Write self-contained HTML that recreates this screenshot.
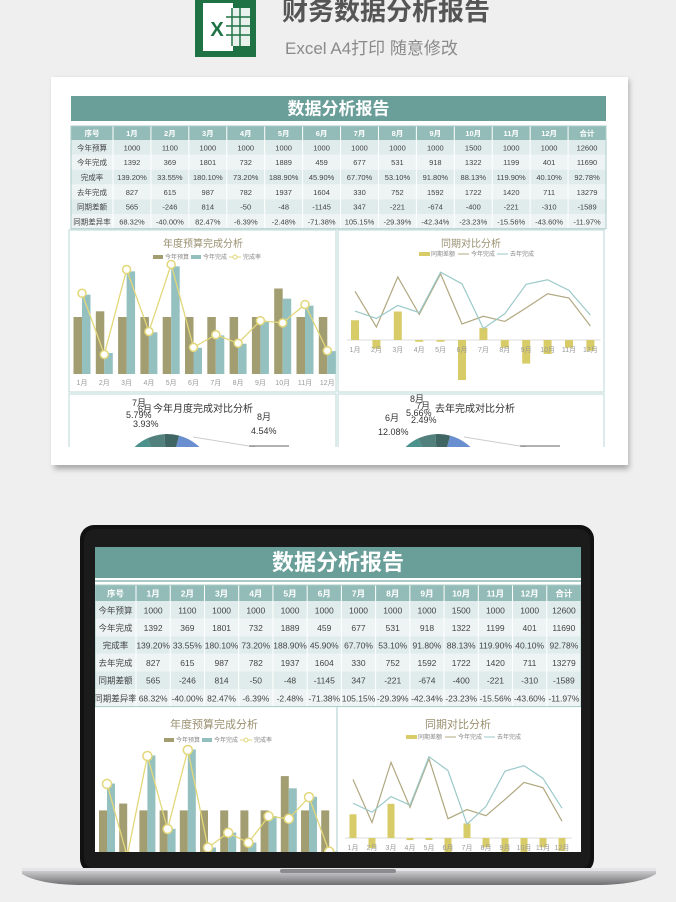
<!DOCTYPE html>
<html><head><meta charset="utf-8">
<style>
html,body{margin:0;padding:0;background:#efefef;}
svg{display:block;font-family:"Liberation Sans","Noto Sans CJK SC",sans-serif;}
</style></head>
<body>
<svg id="s" width="676" height="902" viewBox="0 0 676 902" xmlns="http://www.w3.org/2000/svg">
<defs>
<filter id="sh" x="-5%" y="-5%" width="110%" height="115%"><feGaussianBlur stdDeviation="3"/></filter>
<clipPath id="c1"><rect x="51" y="77" width="577" height="370"/></clipPath>
<clipPath id="c2"><rect x="95" y="547" width="486" height="305"/></clipPath>
<linearGradient id="base" x1="0" y1="0" x2="0" y2="1"><stop offset="0" stop-color="#d8d8da"/><stop offset="0.5" stop-color="#a5a5a8"/><stop offset="1" stop-color="#6d6d70"/></linearGradient>
</defs>
<rect x="195" y="0" width="61" height="57" fill="#1f7244"/>
<rect x="203" y="3" width="30" height="48" fill="#fff"/>
<rect x="226" y="8" width="24" height="38" fill="#fff" opacity="0.9"/>
<g stroke="#1f7244" stroke-width="1.5"><line x1="232" y1="8" x2="232" y2="46"/><line x1="240" y1="8" x2="240" y2="46"/><line x1="226" y1="17" x2="250" y2="17"/><line x1="226" y1="26" x2="250" y2="26"/><line x1="226" y1="35" x2="250" y2="35"/></g>
<text x="217" y="36" font-size="20" font-weight="bold" fill="#1f7244" text-anchor="middle">X</text>
<text x="282" y="20" font-size="26" font-weight="bold" fill="#555">财务数据分析报告</text>
<text x="285" y="54" font-size="17" fill="#8a8a8a">Excel A4打印 随意修改</text>
<rect x="54" y="80" width="575" height="389" fill="#777" filter="url(#sh)" opacity="0.6"/>
<rect x="51" y="77" width="577" height="388" fill="#fff"/>
<g id="top" clip-path="url(#c1)"></g>
<rect x="80" y="525" width="514" height="348" rx="14" fill="#111"/>
<rect x="84" y="529" width="506" height="340" rx="11" fill="#1b1b1b"/>
<rect x="95" y="547" width="486" height="305" fill="#fff"/>
<g id="scr" clip-path="url(#c2)"></g>
<path d="M22 869 L656 869 L656 874 Q640 884 600 885 L78 885 Q38 884 22 874 Z" fill="url(#base)"/>
<rect x="22" y="868" width="634" height="3" fill="#e4e4e6"/>
<rect x="280" y="869" width="116" height="4" rx="2" fill="#8c8c90"/>
</svg>
<script>
const NS="http://www.w3.org/2000/svg";
function el(p,t,a,txt){const e=document.createElementNS(NS,t);for(const k in a)e.setAttribute(k,a[k]);if(txt!==undefined)e.textContent=txt;p.appendChild(e);return e;}
const budget=[1000,1100,1000,1000,1000,1000,1000,1000,1000,1500,1000,1000];
const done=[1392,369,1801,732,1889,459,677,531,918,1322,1199,401];
const last=[827,615,987,782,1937,1604,330,752,1592,1722,1420,711];
const rateT=["139.20%","33.55%","180.10%","73.20%","188.90%","45.90%","67.70%","53.10%","91.80%","88.13%","119.90%","40.10%","92.78%"];
const diffT=["565","-246","814","-50","-48","-1145","347","-221","-674","-400","-221","-310","-1589"];
const drT=["68.32%","-40.00%","82.47%","-6.39%","-2.48%","-71.38%","105.15%","-29.39%","-42.34%","-23.23%","-15.56%","-43.60%","-11.97%"];
const rows=[["今年预算",...budget,12600],["今年完成",...done,11690],["完成率",...rateT],["去年完成",...last,13279],["同期差额",...diffT],["同期差异率",...drT]];
const heads=["序号","1月","2月","3月","4月","5月","6月","7月","8月","9月","10月","11月","12月","合计"];
function table(g,c){
 el(g,"rect",{x:c.x,y:c.ty,width:c.w,height:c.th,fill:"#6a9e99"});
 el(g,"text",{x:c.x+c.w/2,y:c.ty+c.th*0.74,"font-size":c.tf,"font-weight":"bold",fill:"#fff","text-anchor":"middle"},"数据分析报告");
 const cw=(c.w-c.fw)/13;
 const cx=i=>i==0?c.x+c.fw/2:c.x+c.fw+cw*(i-0.5);
 el(g,"rect",{x:c.x,y:c.hy,width:c.w,height:c.hh,fill:"#93bcb8"});
 heads.forEach((h,i)=>el(g,"text",{x:cx(i),y:c.hy+c.hh*0.72,"font-size":c.fs,"font-weight":"bold",fill:"#fff","text-anchor":"middle"},h));
 rows.forEach((r,j)=>{const y=c.hy+c.hh+j*c.rh;
  el(g,"rect",{x:c.x,y:y,width:c.w,height:c.rh,fill:j%2==0?"#dfeceb":"#eef4f4"});
  r.forEach((v,i)=>el(g,"text",{x:cx(i),y:y+c.rh*0.7,"font-size":c.fs,fill:"#444","text-anchor":"middle"},String(v)));});
 for(let i=1;i<14;i++){const x=c.x+c.fw+cw*(i-1);el(g,"line",{x1:x,y1:c.hy,x2:x,y2:c.hy+c.hh+6*c.rh,stroke:"#fff","stroke-width":1});}
 el(g,"rect",{x:c.x,y:c.hy,width:c.w,height:c.hh+6*c.rh,fill:"none",stroke:"#a9cbc8","stroke-width":1});
}
function bar(g,c){
 el(g,"text",{x:c.tx,y:c.ty,"font-size":c.tfs,fill:"#9a9070","text-anchor":"middle"},"年度预算完成分析");
 const ly=c.ly, lx=c.tx-38;
 el(g,"rect",{x:lx-12,y:ly-4,width:10,height:4,fill:"#a39d72"});el(g,"text",{x:lx,y:ly,"font-size":c.lfs,fill:"#888"},"今年预算");
 el(g,"rect",{x:lx+26,y:ly-4,width:10,height:4,fill:"#93bfbf"});el(g,"text",{x:lx+38,y:ly,"font-size":c.lfs,fill:"#888"},"今年完成");
 el(g,"line",{x1:lx+64,y1:ly-2,x2:lx+76,y2:ly-2,stroke:"#e2d77a"});el(g,"circle",{cx:lx+70,cy:ly-2,r:2,fill:"#fff",stroke:"#e2d77a"});
 el(g,"text",{x:lx+78,y:ly,"font-size":c.lfs,fill:"#888"},"完成率");
 let pts=[];
 for(let i=0;i<12;i++){const x=c.x0+i*c.dx;
  const hb=budget[i]*c.s, hd=done[i]*c.s;
  el(g,"rect",{x:x-c.bw,y:c.base-hb,width:c.bw,height:hb,fill:"#a39d72"});
  el(g,"rect",{x:x,y:c.base-hd,width:c.bw,height:hd,fill:"#95c0c0"});
  if(c.lab) el(g,"text",{x:x,y:c.base+11,"font-size":7,fill:"#999","text-anchor":"middle"},(i+1)+"月");
  pts.push([x,c.base-done[i]/budget[i]*100*c.rs]);}
 el(g,"polyline",{points:pts.map(p=>p.join(",")).join(" "),fill:"none",stroke:"#e2d77a","stroke-width":1.3});
 pts.forEach(p=>el(g,"circle",{cx:p[0],cy:p[1],r:c.cr,fill:"#fff",stroke:"#e2d77a","stroke-width":1.5}));
}
function cmp(g,c){
 el(g,"text",{x:c.tx,y:c.ty,"font-size":c.tfs,fill:"#9a9070","text-anchor":"middle"},"同期对比分析");
 const ly=c.ly,lx=c.tx-40;
 el(g,"rect",{x:lx-12,y:ly-4,width:11,height:4,fill:"#d8cc68"});el(g,"text",{x:lx,y:ly,"font-size":c.lfs,fill:"#888"},"同期差额");
 el(g,"line",{x1:lx+27,y1:ly-2,x2:lx+38,y2:ly-2,stroke:"#b0a880"});el(g,"text",{x:lx+40,y:ly,"font-size":c.lfs,fill:"#888"},"今年完成");
 el(g,"line",{x1:lx+66,y1:ly-2,x2:lx+77,y2:ly-2,stroke:"#9cc9c9"});el(g,"text",{x:lx+79,y:ly,"font-size":c.lfs,fill:"#888"},"去年完成");
 el(g,"line",{x1:c.x0-8,y1:c.base,x2:c.x0+11*c.dx+10,y2:c.base,stroke:"#ddd"});
 for(let i=0;i<12;i++){const x=c.x0+i*c.dx, d=done[i]-last[i], h=Math.abs(d)*c.s;
  el(g,"rect",{x:x-c.bw/2,y:d>0?c.base-h:c.base,width:c.bw,height:h,fill:"#d8cc68"});
  el(g,"text",{x:x,y:c.base+12,"font-size":7,fill:"#999","text-anchor":"middle"},(i+1)+"月");}
 const p1=done.map((v,i)=>(c.x0+i*c.dx)+","+(c.base-v*c.s)).join(" ");
 const p2=last.map((v,i)=>(c.x0+i*c.dx)+","+(c.base-v*c.s)).join(" ");
 el(g,"polyline",{points:p1,fill:"none",stroke:"#b0a880","stroke-width":1.2});
 el(g,"polyline",{points:p2,fill:"none",stroke:"#9cc9c9","stroke-width":1.2});
}
function wedge(g,cx,cy,r,a0,a1,col){const f=a=>[cx+r*Math.sin(a*Math.PI/180),cy-r*Math.cos(a*Math.PI/180)];const p=f(a0),q=f(a1);
 el(g,"path",{d:`M${cx},${cy} L${p[0]},${p[1]} A${r},${r} 0 ${a1-a0>180?1:0} 1 ${q[0]},${q[1]} Z`,fill:col});}
const T=document.getElementById("top");
table(T,{x:71,w:535,ty:96,th:25,tf:17,hy:126,hh:14,rh:14.8,fw:42,fs:7.5});
[[69,230,267,162],[338,230,266,162],[69,394,267,80],[338,394,266,80]].forEach(r=>el(T,"rect",{x:r[0],y:r[1],width:r[2],height:r[3],fill:"#fff",stroke:"#c6dfdd","stroke-width":1.2}));
bar(T,{tx:203,ty:247,tfs:10,ly:259,lfs:6,x0:82,dx:22.3,base:374,s:0.057,bw:8.5,rs:0.58,cr:4,lab:true});
cmp(T,{tx:471,ty:247,tfs:10,ly:256,lfs:6,x0:355,dx:21.4,base:340,s:0.035,bw:8});
const cols=["#4aaba2","#4b918c","#52807d","#3f6663","#6a8fd0"];
[[167,481],[438,481]].forEach((p,k)=>{let a=-80;[35,20,22,18,45].forEach((w,i)=>{wedge(T,p[0],p[1],47,a,a+w,cols[i]);a+=w;});
 el(T,"line",{x1:p[0]+26,y1:p[1]-44,x2:p[0]+88,y2:p[1]-34,stroke:"#ccc"});
 el(T,"line",{x1:p[0]+82,y1:p[1]-35,x2:p[0]+122,y2:p[1]-35,stroke:"#666"});});
el(T,"text",{x:203,y:412,"font-size":10,fill:"#333","text-anchor":"middle"},"今年月度完成对比分析");
el(T,"text",{x:475,y:412,"font-size":10,fill:"#333","text-anchor":"middle"},"去年完成对比分析");
[["7月",132,406],["6月",138,412],["5.79%",126,418],["3.93%",133,427],["8月",257,420],["4.54%",251,434],
 ["8月",410,402],["7月",416,409],["5.66%",406,416],["2.49%",411,423],["6月",385,421],["12.08%",378,435]].forEach(t=>el(T,"text",{x:t[1],y:t[2],"font-size":9,fill:"#333"},t[0]));
const S=document.getElementById("scr");
table(S,{x:95,w:486,ty:547,th:31,tf:22,hy:585,hh:16,rh:17.6,fw:41,fs:8.5});
el(S,"rect",{x:95,y:580,width:486,height:2,fill:"#a9cbc8"});
el(S,"line",{x1:337,y1:707,x2:337,y2:852,stroke:"#c6dfdd","stroke-width":1.5});
bar(S,{tx:214,ty:728,tfs:11,ly:742,lfs:6,x0:107,dx:20.2,base:879,s:0.0686,bw:8,rs:0.683,cr:4.5,lab:false});
cmp(S,{tx:458,ty:728,tfs:11,ly:739,lfs:6,x0:353,dx:19,base:838,s:0.042,bw:7});
</script>
</body></html>
